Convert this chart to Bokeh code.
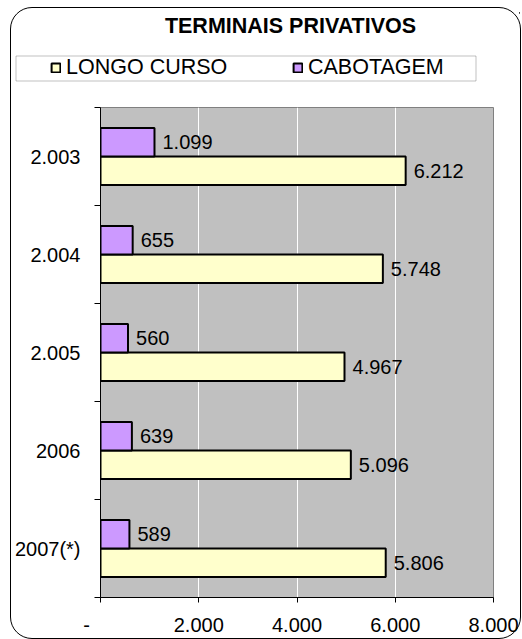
from bokeh.plotting import figure
from bokeh.models import (ColumnDataSource, Range1d, FixedTicker, Legend, LegendItem,
                          BoxAnnotation, Label, CDSView, IndexFilter)
from bokeh.layouts import column
from bokeh.transform import dodge
from bokeh.core.properties import value
from bokeh.embed import file_html
from bokeh.resources import INLINE

# ---- data ----
categories = ["2.003", "2.004", "2.005", "2006", "2007(*)"]
longo_curso = [6212, 5748, 4967, 5096, 5806]
cabotagem = [1099, 655, 560, 639, 589]
x_ticks = [0, 2000, 4000, 6000, 8000]
x_tick_labels = ["-     ", "2.000", "4.000", "6.000", "8.000"]
title_text = "TERMINAIS PRIVATIVOS"
series_names = ["LONGO CURSO", "CABOTAGEM"]
colors = ["#FFFFCC", "#CC99FF"]


def fmt(v):
    return f"{v:,}".replace(",", ".")


n = len(categories)
ypos = [n - i - 0.5 for i in range(n)]
source = ColumnDataSource(dict(
    y=ypos, cat=categories, longo=longo_curso, cabot=cabotagem,
    longo_lbl=[fmt(v) for v in longo_curso],
    cabot_lbl=[fmt(v) for v in cabotagem],
))

FONT = "Liberation Sans"
FS = "20px"
W = 509
HH = 98          # header height
HM = 532         # main plot height

# ---------------- header (title + legend) ----------------
hdr = figure(width=W, height=HH, output_backend="svg", toolbar_location=None,
             x_range=Range1d(0, W), y_range=Range1d(HH, 0),
             min_border=0, min_border_left=0, min_border_right=0,
             min_border_top=0, min_border_bottom=0)
hdr.axis.visible = False
hdr.grid.visible = False
hdr.outline_line_color = None
hdr.background_fill_color = None
hdr.border_fill_color = None

# legend-only renderers: one row each, zero width and outside the header range
d_longo = hdr.hbar(y="y", left="longo", right="longo", height=1,
                   fill_color=colors[0], line_color="black", line_width=2,
                   source=source, view=CDSView(filter=IndexFilter([0])))
d_cabot = hdr.hbar(y="y", left="longo", right="longo", height=1,
                   fill_color=colors[1], line_color="black", line_width=2,
                   source=source, view=CDSView(filter=IndexFilter([0])))

hdr.add_layout(Label(x=289, y=17, text=title_text, text_align="center",
                     text_baseline="middle", text_font=FONT, text_font_size="21.5px",
                     text_font_style="bold", text_color="black") if False else
               Label(x=279, y=17, text=title_text, text_align="center",
                     text_baseline="middle", text_font=FONT, text_font_size="21.5px",
                     text_font_style="bold", text_color="black"))

hdr.add_layout(BoxAnnotation(left=4.5, right=464.5, top=47.5, bottom=72.5,
                             fill_color="white", fill_alpha=1,
                             line_color="#303030", line_width=1))

legend = Legend(items=[LegendItem(label=series_names[0], renderers=[d_longo]),
                       LegendItem(label=series_names[1], renderers=[d_cabot])],
                orientation="horizontal", location=(39, 26),
                padding=0, margin=0, spacing=61,
                glyph_width=11, glyph_height=11, label_standoff=5,
                label_width=165, border_line_alpha=0, background_fill_alpha=0,
                label_text_font=FONT, label_text_font_size="21.5px",
                label_text_color="black")
hdr.add_layout(legend)

# ---------------- main chart ----------------
p = figure(width=W, height=HM, output_backend="svg", toolbar_location=None,
           x_range=Range1d(0, 8000), y_range=Range1d(0, n),
           min_border_left=88, min_border_right=27, min_border_top=1,
           min_border_bottom=41)
p.background_fill_color = "#C0C0C0"
p.border_fill_color = None
p.outline_line_color = "#808080"
p.outline_line_width = 1

BAR_H = 0.29
OFF = BAR_H / 2
p.hbar(y=dodge("y", -OFF), left=0, right="longo", height=BAR_H,
       fill_color=colors[0], line_color="black", line_width=2, source=source)
p.hbar(y=dodge("y", OFF), left=0, right="cabot", height=BAR_H,
       fill_color=colors[1], line_color="black", line_width=2, source=source)

p.text(x="longo", y=dodge("y", -OFF), text="longo_lbl", x_offset=8,
       text_align="left", text_baseline="middle", text_font=value(FONT),
       text_font_size=FS, text_color="black", source=source)
p.text(x="cabot", y=dodge("y", OFF), text="cabot_lbl", x_offset=8,
       text_align="left", text_baseline="middle", text_font=value(FONT),
       text_font_size=FS, text_color="black", source=source)

xa = p.xaxis[0]
xa.ticker = FixedTicker(ticks=x_ticks, minor_ticks=[])
xa.major_label_overrides = {t: l for t, l in zip(x_ticks, x_tick_labels)}
xa.major_tick_out = 5
xa.major_tick_in = 0
xa.minor_tick_out = 0
xa.minor_tick_in = 0
xa.major_label_standoff = 11
xa.major_label_text_font = FONT
xa.major_label_text_font_size = FS
xa.major_label_text_color = "black"
xa.axis_line_color = "black"
xa.major_tick_line_color = "black"

ya = p.yaxis[0]
ya.ticker = FixedTicker(ticks=ypos, minor_ticks=list(range(n + 1)))
ya.major_label_overrides = {y: c for y, c in zip(ypos, categories)}
ya.major_tick_out = 0
ya.major_tick_in = 0
ya.minor_tick_out = 6
ya.minor_tick_in = 0
ya.minor_tick_line_color = "black"
ya.major_label_standoff = 14
ya.major_label_text_font = FONT
ya.major_label_text_font_size = FS
ya.major_label_text_color = "black"
ya.axis_line_color = "black"

p.ygrid.visible = False
p.xgrid.ticker = FixedTicker(ticks=x_ticks)
p.xgrid.grid_line_color = "white"
p.xgrid.grid_line_width = 1

if hasattr(hdr, "frame_align"):
    hdr.frame_align = False
    p.frame_align = False
    lay = column(hdr, p, spacing=0)
else:
    lay = column(column(hdr), p, spacing=0)
lay.margin = (7, 0, 0, 10)
lay.styles = {"border": "1px solid #000000", "border-radius": "22px"}

open("out.html", "w").write(file_html(lay, INLINE))
